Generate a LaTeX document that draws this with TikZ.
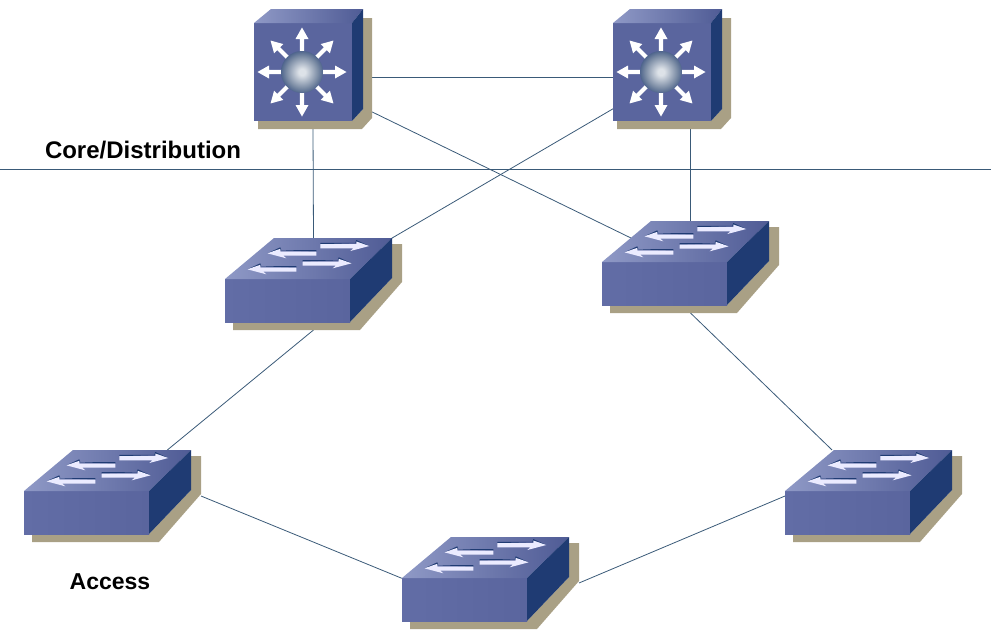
\documentclass[tikz,border=0pt]{standalone}
\usepackage{fontspec}
\setmainfont{Liberation Sans}
\definecolor{facefront}{HTML}{5A659E}
\definecolor{facefrontlight}{HTML}{626DA6}
\definecolor{facetoplight}{HTML}{8F99C6}
\definecolor{facetopdark}{HTML}{4F5B95}
\definecolor{faceside}{HTML}{1F3B73}
\definecolor{shadowtan}{HTML}{A9A085}
\definecolor{linkblue}{HTML}{3A5A78}
\definecolor{ballcenter}{HTML}{DDE2E8}
\definecolor{ballmiddle}{HTML}{7A8BA4}
\pgfdeclareradialshading{ballshade}{\pgfpoint{0bp}{0bp}}{
    color(0bp)=(ballcenter);
    color(4bp)=(ballcenter);
    color(19bp)=(ballmiddle);
    color(32bp)=(faceside);
    color(50bp)=(faceside)
}
\tikzset{
    devicenode/.style={inner sep=0pt, outer sep=0pt}, % invisible box round a whole icon
    corenode/.style={devicenode, minimum width=118pt, minimum height=120pt},
    switchnode/.style={devicenode, minimum width=177pt, minimum height=92pt},
    link/.style={draw=linkblue, line width=0.8pt},
    layerlabel/.style={font=\fontsize{24}{26}\selectfont\bfseries},
    flatarrow/.pic={
        \fill[faceside] (-49,-3.2) -- (-14,-3.2) -- (-13,-6) -- (0,0) -- (-13,-3) -- (-49,-1.8) -- cycle;
        \fill[white!92!blue] (-49,-1.8) -- (-13,-1.8) -- (-13,-4.5) -- (0,0) -- (-19,5) -- (-16,2.4) -- (-49,2.4) -- cycle;
    },
    coreicon/.pic={
        \fill[shadowtan] (-55,52) -- (-55,60) -- (49,60) -- (59,49) -- (59,-51) -- (50,-51) -- (50,40) -- (39,52) -- cycle;
        \fill[facefront] (-59,-46) rectangle (39,52);
        \shade[left color=facetoplight, right color=facetopdark] (-59,-46) -- (-42,-60) -- (50,-60) -- (39,-46) -- cycle;
        \fill[faceside] (39,-46) -- (50,-60) -- (50,40) -- (39,52) -- cycle;
        \foreach \a in {0,45,...,315} {
            \fill[white, shift={(-11,3)}, rotate=\a] (20,-2.1) -- (33,-2.1) -- (33,-6.5) -- (44.5,0) -- (33,6.5) -- (33,2.1) -- (20,2.1) -- cycle;
        }
        \shade[shading=ballshade] (-11,3) circle (21);
    },
    switchicon/.pic={
        \fill[shadowtan] (-80.5,38) -- (-80.5,46) -- (46.5,46) -- (88.5,-2) -- (88.5,-40) -- (78.5,-40) -- (78.5,-6) -- (36.5,38) -- cycle;
        \shade[left color=facefrontlight, right color=facefront] (-88.5,-5) rectangle (36.5,38);
        \shade[left color=facetoplight, right color=facetopdark] (-88.5,-5) -- (-39.5,-46) -- (78.5,-46) -- (36.5,-5) -- cycle;
        \fill[faceside] (36.5,-5) -- (78.5,-46) -- (78.5,-6) -- (36.5,38) -- cycle;
        \pic at (55.8,-38) {flatarrow};
        \pic[xscale=-1] at (-46.2,-30.7) {flatarrow};
        \pic at (38.2,-20.7) {flatarrow};
        \pic[xscale=-1] at (-66.2,-14.7) {flatarrow};
    },
}

\begin{document}
\begin{tikzpicture}[x=1pt, y=-1pt]
    \useasboundingbox (0,0) rectangle (991,633);
    % device boxes, drawn further down
    \node[corenode] (core1) at (313,69) {};
    \node[corenode] (core2) at (672,69) {};
    \node[switchnode] (sw1) at (313.5,284) {};
    \node[switchnode] (sw2) at (690.5,267) {};
    \node[switchnode] (sw3) at (112.5,496) {};
    \node[switchnode] (sw4) at (873.5,496) {};
    \node[switchnode] (sw5) at (490.5,583) {};
    \coordinate (sepleft) at (0,169);
    \coordinate (sepright) at (991,169);
    \node[layerlabel] (corelabel) at (143,150) {Core/Distribution};
    \node[layerlabel, font=\fontsize{23}{26}\selectfont\bfseries] (accesslabel) at (110,582) {Access};

    \draw[link] (sepleft) -- (sepright);
    \draw[link] (core1.-8) -- (core2.188);
    \draw[link] (core1.-36) -- (sw2.center);
    \draw[link] (core2.214) -- (sw1.center);
    \draw[link] (core1.south) -- (sw1.north);
    \draw[link] (core2.south -| sw2.north) -- (sw2.north);
    \draw[link] (sw1.south) -- (sw3.40);
    \draw[link] (sw2.south) -- (sw4.132);
    \draw[link] (sw3.east) -- (sw5.177);
    \draw[link] (sw5.east) -- (sw4.west);

    \foreach \name in {core1,core2} {
        \pic at (\name) {coreicon};
    }
    \foreach \name in {sw1,sw2,sw3,sw4,sw5} {
        \pic at (\name) {switchicon};
    }
\end{tikzpicture}
\end{document}
